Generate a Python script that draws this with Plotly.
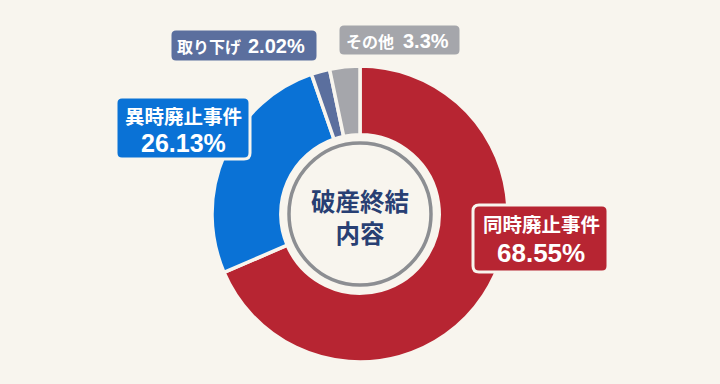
import plotly.graph_objects as go

categories = ["同時廃止事件", "異時廃止事件", "取り下げ", "その他"]
values = [68.55, 26.13, 2.02, 3.3]
colors = ["#b72532", "#0a72d6", "#5b6f9e", "#a5a6ab"]
center_title = ["破産終結", "内容"]

BG = "#f8f5ee"
W, H = 720, 384

def px(x):
    return x / W

def py(y):
    return 1 - y / H

def rounded_rect(x0, y0, x1, y1, r=6):
    rx, ry = r / W, r / H
    X0, X1 = px(x0), px(x1)
    Y0, Y1 = py(y0), py(y1)  # Y0 top, Y1 bottom
    return (f"M {X0+rx},{Y0} L {X1-rx},{Y0} Q {X1},{Y0} {X1},{Y0-ry} "
            f"L {X1},{Y1+ry} Q {X1},{Y1} {X1-rx},{Y1} "
            f"L {X0+rx},{Y1} Q {X0},{Y1} {X0},{Y1+ry} "
            f"L {X0},{Y0-ry} Q {X0},{Y0} {X0+rx},{Y0} Z")

cx, cy, R = 360, 214, 148

fig = go.Figure(go.Pie(
    labels=categories,
    values=values,
    marker=dict(colors=colors, line=dict(color=BG, width=3.5)),
    hole=0.535,
    sort=False,
    direction="clockwise",
    rotation=0,
    textinfo="none",
    hoverinfo="label+percent",
    showlegend=False,
    domain=dict(x=[px(cx - R), px(cx + R)], y=[py(cy + R), py(cy - R)]),
))

shapes = []
r_ring = 71
shapes.append(dict(type="circle", xref="paper", yref="paper",
                   x0=px(cx - r_ring), x1=px(cx + r_ring),
                   y0=py(cy + r_ring), y1=py(cy - r_ring),
                   fillcolor=BG, line=dict(color="#8c8e92", width=3.5)))

boxes = [
    (473, 205, 608, 272, colors[0]),
    (116, 97, 250, 159, colors[1]),
    (170, 29, 318, 62, colors[2]),
    (338, 24, 461, 56, colors[3]),
]
for x0, y0, x1, y1, c in boxes:
    shapes.append(dict(type="path", xref="paper", yref="paper",
                       path=rounded_rect(x0, y0, x1, y1),
                       fillcolor=c, line=dict(color=BG, width=3)))

CJK = "Noto Sans CJK JP"
NUM = "Liberation Sans"
ann = []
def add(text, x, y, size, family=CJK, weight="bold", color="white", xanchor="center"):
    ann.append(dict(text=text, x=px(x), y=py(y), xref="paper", yref="paper",
                    showarrow=False, xanchor=xanchor, yanchor="middle",
                    font=dict(family=family, size=size, color=color, weight=weight)))

add(categories[0], 541, 223, 19.5)
add(f"{values[0]:.2f}%", 541, 253, 26, NUM)
add(categories[1], 183, 115, 19.5)
add(f"{values[1]:.2f}%", 183, 143, 25, NUM)
add(categories[2], 243, 46, 16, xanchor="right")
add(f"{values[2]:.2f}%", 246, 46, 20, NUM, xanchor="left")
add(categories[3], 396, 41, 16, xanchor="right")
add(f"{values[3]:g}%", 401, 41, 20, NUM, xanchor="left")
add("<br>".join(center_title), cx, 216.5, 24.5, color="#283f73")

fig.update_layout(
    width=W, height=H,
    margin=dict(l=0, r=0, t=0, b=0),
    paper_bgcolor=BG, plot_bgcolor=BG,
    shapes=shapes, annotations=ann,
)

fig.write_html("out.html", config={"displayModeBar": False},
               post_script="document.body.style.margin='0';document.body.style.background='" + BG + "';")
